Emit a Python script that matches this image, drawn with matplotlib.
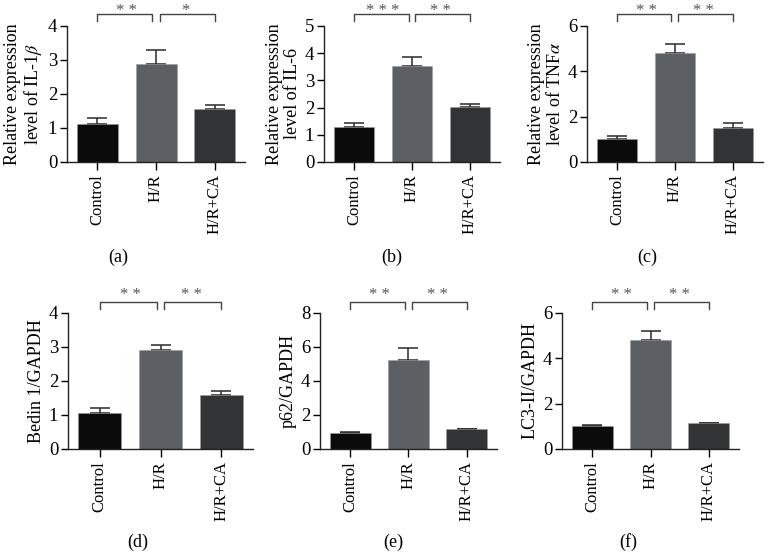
import matplotlib
matplotlib.use("Agg")
import matplotlib.pyplot as plt

plt.rcParams["font.family"] = "serif"
plt.rcParams["font.serif"] = ["Liberation Serif", "DejaVu Serif"]
plt.rcParams["mathtext.fontset"] = "stix"

groups = ["Control", "H/R", "H/R+CA"]
bar_colors = ["#0b0b0b", "#5c6064", "#323334"]

# means and upper SD
il1b = [1.13, 2.88, 1.55]
il1b_err = [0.15, 0.42, 0.12]
il6 = [1.28, 3.54, 2.02]
il6_err = [0.16, 0.33, 0.13]
tnfa = [1.00, 4.79, 1.51]
tnfa_err = [0.13, 0.40, 0.21]
beclin = [1.05, 2.90, 1.58]
beclin_err = [0.16, 0.15, 0.13]
p62 = [0.96, 5.24, 1.15]
p62_err = [0.04, 0.73, 0.04]
lc3 = [1.03, 4.83, 1.13]
lc3_err = [0.03, 0.38, 0.03]

panels = [
    # values, errors, ylabel, yticks, stars, axes rect, letter, letter pos
    (il1b, il1b_err, "Relative expression\nlevel of IL-1$\\beta$", [0, 1, 2, 3, 4],
     ["* *", "*"], [0.0869, 0.7071, 0.2309, 0.2459], "(a)", (0.153, 0.535)),
    (il6, il6_err, "Relative expression\nlevel of IL-6", [0, 1, 2, 3, 4, 5],
     ["* * *", "* *"], [0.4202, 0.7071, 0.2283, 0.2459], "(b)", (0.508, 0.535)),
    (tnfa, tnfa_err, "Relative expression\nlevel of TNF$\\alpha$", [0, 2, 4, 6],
     ["* *", "* *"], [0.7613, 0.7071, 0.2283, 0.2459], "(c)", (0.839, 0.535)),
    (beclin, beclin_err, "Bedin 1/GAPDH", [0, 1, 2, 3, 4],
     ["* *", "* *"], [0.0882, 0.1881, 0.2400, 0.2459], "(d)", (0.179, 0.020)),
    (p62, p62_err, "p62/GAPDH", [0, 2, 4, 6, 8],
     ["* *", "* *"], [0.4150, 0.1881, 0.2296, 0.2459], "(e)", (0.510, 0.020)),
    (lc3, lc3_err, "LC3-II/GAPDH", [0, 2, 4, 6],
     ["* *", "* *"], [0.7290, 0.1881, 0.2296, 0.2459], "(f)", (0.815, 0.020)),
]

fig = plt.figure(figsize=(7.71, 5.53), dpi=100)

for vals, errs, ylab, yt, stars, rect, letter, lpos in panels:
    ax = fig.add_axes(rect)
    x = list(range(len(groups)))
    ax.bar(x, vals, width=0.70, color=bar_colors, edgecolor="#9a9a9a", linewidth=0.4, zorder=2)
    ax.errorbar(x, vals, yerr=[[0] * 3, errs], fmt="none", ecolor="#2a2a2a",
                elinewidth=1.1, capsize=7, capthick=1.1, zorder=1)
    ax.set_xlim(-0.52, 2.52)
    ax.set_ylim(0, yt[-1])
    ax.set_yticks(yt)
    ax.set_xticks(x)
    ax.set_xticklabels(groups, rotation=90, fontsize=12)
    ax.tick_params(axis="y", labelsize=13.5, length=5, width=1, pad=2)
    ax.tick_params(axis="x", length=6, width=1, pad=3)
    ax.set_ylabel(ylab, fontsize=13, labelpad=3, linespacing=1.05)
    for s in ["top", "right"]:
        ax.spines[s].set_visible(False)
    for s in ["left", "bottom"]:
        ax.spines[s].set_linewidth(1.0)
        ax.spines[s].set_color("#222222")

    # significance brackets
    upper = rect[1] > 0.5
    top = 1.088 if upper else 1.08
    low = top - 0.05
    star_y = top - 0.01 if upper else top + 0.025
    trans = ax.get_xaxis_transform()
    for (x0, x1), st in zip([(0, 0.94), (1.06, 2)], stars):
        ax.plot([x0, x0, x1, x1], [low, top, top, low], color="#444444", lw=1.0,
                transform=trans, clip_on=False)
        ax.text((0 if x0 == 0 else 1) + 0.5, star_y, st, transform=trans, ha="center",
                va="baseline", fontsize=12, color="#555555")

    fig.text(lpos[0], lpos[1], letter, ha="center", va="center", fontsize=13)

fig.savefig("out.png", dpi=100)
